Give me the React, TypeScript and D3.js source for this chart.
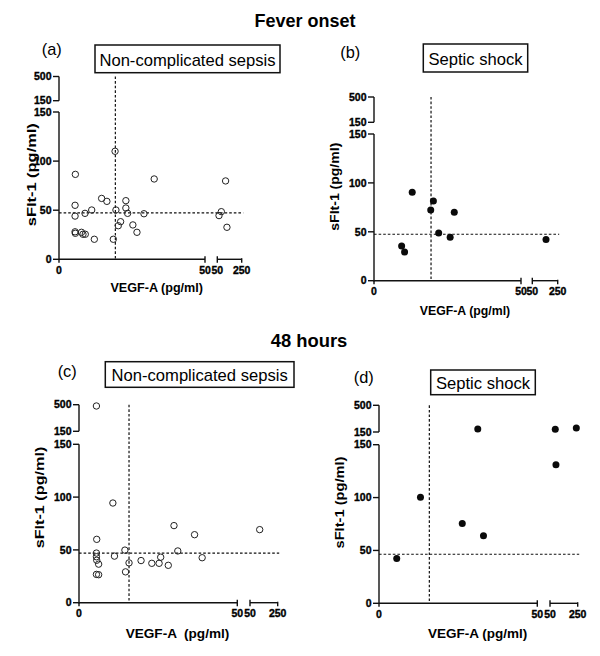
import * as d3 from "d3";
import React from "react";

// [VEGF-A, sFlt-1] pairs (pg/ml)
const feverNonComplicated: [number, number][] = [
  [5.6, 86.5], [5.5, 55], [5.5, 44], [5.5, 28], [5.6, 26.5], [7.7, 27.5], [8.2, 25.5], [9, 25.5],
  [8.9, 46.8], [11.2, 50.2], [12.1, 20.4], [14.6, 62], [16.4, 59], [18.6, 20.4], [19.2, 110],
  [19.5, 50.2], [20.3, 34.2], [21.1, 38.3], [22.9, 59.7], [22.9, 52.2], [23.5, 46.8], [25.3, 35],
  [26.7, 27.5], [29.1, 46.4], [32.6, 81.8], [64, 44.5], [83, 48.5], [118, 79.8], [129, 32.6],
];
const feverSepticShock: [number, number][] = [
  [9.4, 35.5], [10.4, 29.3], [13, 90.4], [19.3, 72.3], [20.2, 81.5], [22, 48.8], [25.9, 44.4],
  [27.3, 69.9], [158, 42],
];
const h48NonComplicated: [number, number][] = [
  [5.5, 483], [5.6, 60], [5.5, 47], [5.5, 43.5], [5.6, 40.2], [6.2, 36.5], [5.5, 26.8], [6.2, 26.5],
  [10.7, 94.4], [11.2, 44.1], [14.5, 49.8], [14.7, 29.2], [15.8, 37.7], [19.6, 39.9], [23, 37.3],
  [25.3, 37.3], [25.8, 43.1], [28.2, 35.4], [30, 73], [31.2, 49], [36.5, 64.4], [38.9, 42.6],
  [120, 69.2],
];
const h48SepticShock: [number, number][] = [
  [5.6, 42.3], [13.1, 100.4], [26.3, 75.5], [33, 63.8], [31.2, 189], [88, 185], [240, 202], [93, 131],
];

// cut-off lines [VEGF-A, sFlt-1]
const cutoffs: [number, number][] = [[19.3, 47.3], [19.4, 47.5], [15.8, 47], [15.9, 46.4]];

const yTicksLow = [0, 50, 100, 150];
const yTicksHigh = [150, 500];
const xTicksLow = [0, 50];
const xTicksHigh = [50, 250];

const panelLetters = ["(a)", "(b)", "(c)", "(d)"];
const groupNames = ["Non-complicated sepsis", "Septic shock", "Non-complicated sepsis", "Septic shock"];
const xTitles = ["VEGF-A (pg/ml)", "VEGF-A (pg/ml)", "VEGF-A  (pg/ml)", "VEGF-A (pg/ml)"];
const yTitle = "sFlt-1 (pg/ml)";
const headings = ["Fever onset", "48 hours"];

const FONT = "'Liberation Sans', Arial, Helvetica, sans-serif";

interface Layout {
  x0: number; x50: number; x50b: number; x250: number;
  y0: number; y150: number; u150: number; u500: number;
  letter: [number, number];
  box: [number, number, number, number];
  boxBase: number;
  xTitle: [number, number, number];
  yTitle: [number, number, number];
}

const layouts: Layout[] = [
  { x0: 59, x50: 205, x50b: 217.3, x250: 241.7, y0: 259.3, y150: 112, u150: 100.7, u500: 76.5,
    letter: [51.7, 55], box: [95, 45, 185, 27.7], boxBase: 65.7,
    xTitle: [156.7, 291.7, 12.6], yTitle: [35.8, 174.7, 103] },
  { x0: 374, x50: 521, x50b: 532.3, x250: 557.7, y0: 280.7, y150: 134, u150: 122.3, u500: 97,
    letter: [350.3, 58.3], box: [423.3, 44, 104.4, 28], boxBase: 65,
    xTitle: [465, 314.5, 12.3], yTitle: [339.3, 186.7, 88] },
  { x0: 79, x50: 237.3, x50b: 250, x250: 277.7, y0: 602.7, y150: 444.3, u150: 431.3, u500: 404.7,
    letter: [67.2, 376.5], box: [105.3, 361.7, 188.7, 25.6], boxBase: 380.7,
    xTitle: [177.5, 638, 13.6], yTitle: [44, 497.5, 101.7] },
  { x0: 379, x50: 537.3, x50b: 550, x250: 577.7, y0: 603.3, y150: 444.7, u150: 432, u500: 405.3,
    letter: [363.7, 383], box: [430.7, 370, 104.6, 24.7], boxBase: 389,
    xTitle: [477.7, 638, 13.5], yTitle: [344, 502.5, 92] },
];

const series = [feverNonComplicated, feverSepticShock, h48NonComplicated, h48SepticShock];
const filled = [false, true, false, true];

const Panel = ({ i }: { i: number }) => {
  const L = layouts[i];
  const xLow = d3.scaleLinear().domain([0, 50]).range([L.x0, L.x50]);
  const xHigh = d3.scaleLinear().domain([50, 250]).range([L.x50b, L.x250]);
  const yLow = d3.scaleLinear().domain([0, 150]).range([L.y0, L.y150]);
  const yHigh = d3.scaleLinear().domain([150, 500]).range([L.u150, L.u500]);
  const x = (v: number) => (v <= 50 ? xLow(v) : xHigh(v));
  const y = (v: number) => (v <= 150 ? yLow(v) : yHigh(v));
  const [cx, cy] = cutoffs[i];
  const tickFont = {
    fontFamily: FONT, fontWeight: 700, fontSize: 10.5, stroke: "#000", strokeWidth: 0.35,
  };

  return (
    <g>
      <text x={L.letter[0]} y={L.letter[1]} textAnchor="middle" fontFamily={FONT} fontSize={16.4}>
        {panelLetters[i]}
      </text>
      <rect x={L.box[0]} y={L.box[1]} width={L.box[2]} height={L.box[3]} fill="none" stroke="#111" strokeWidth={1.5} />
      <text x={L.box[0] + L.box[2] / 2} y={L.boxBase} textAnchor="middle" fontFamily={FONT} fontSize={16.6}>
        {groupNames[i]}
      </text>

      {/* y axis, two segments */}
      <g stroke="#111" strokeWidth={1.4}>
        <line x1={L.x0} x2={L.x0} y1={yLow(0) + 0.7} y2={yLow(150)} />
        <line x1={L.x0} x2={L.x0} y1={yHigh(150)} y2={yHigh(500)} />
        {yTicksLow.map((t) => (
          <line key={"l" + t} x1={L.x0 - 6} x2={L.x0} y1={yLow(t)} y2={yLow(t)} />
        ))}
        {yTicksHigh.map((t) => (
          <line key={"h" + t} x1={L.x0 - 6} x2={L.x0} y1={yHigh(t)} y2={yHigh(t)} />
        ))}
        {/* x axis, two segments */}
        <line x1={L.x0} x2={xLow(50)} y1={L.y0} y2={L.y0} />
        <line x1={xHigh(50)} x2={xHigh(250)} y1={L.y0} y2={L.y0} />
        <line x1={xLow(0)} x2={xLow(0)} y1={L.y0} y2={L.y0 + 3.5} />
        <line x1={xLow(50)} x2={xLow(50)} y1={L.y0 - 3} y2={L.y0 + 3.5} />
        <line x1={xHigh(50)} x2={xHigh(50)} y1={L.y0 - 3} y2={L.y0 + 3.5} />
        <line x1={xHigh(250)} x2={xHigh(250)} y1={L.y0 - 1} y2={L.y0 + 3.5} />
      </g>
      {yTicksLow.map((t) => (
        <text key={"tl" + t} x={L.x0 - 7.5} y={yLow(t)} dy="0.36em" textAnchor="end" {...tickFont}>{t}</text>
      ))}
      {yTicksHigh.map((t) => (
        <text key={"th" + t} x={L.x0 - 7.5} y={yHigh(t)} dy="0.36em" textAnchor="end" {...tickFont}>{t}</text>
      ))}
      {xTicksLow.map((t) => (
        <text key={"xl" + t} x={xLow(t)} y={L.y0 + 14.5} textAnchor="middle" {...tickFont}>{t}</text>
      ))}
      {xTicksHigh.map((t) => (
        <text key={"xh" + t} x={xHigh(t)} y={L.y0 + 14.5} textAnchor="middle" {...tickFont}>{t}</text>
      ))}

      {/* cut-off lines */}
      <g stroke="#111" strokeWidth={1.2} strokeDasharray="2.6,2">
        <line x1={x(cx)} x2={x(cx)} y1={y(500)} y2={L.y0} />
        <line x1={L.x0} x2={L.x250 + 1.5} y1={y(cy)} y2={y(cy)} />
      </g>

      {series[i].map(([vx, vy], k) =>
        filled[i] ? (
          <circle key={k} cx={x(vx)} cy={y(vy)} r={3.5} fill="#0a0a0a" />
        ) : (
          <circle key={k} cx={x(vx)} cy={y(vy)} r={3.2} fill="none" stroke="#222" strokeWidth={1} />
        )
      )}

      <text x={L.xTitle[0]} y={L.xTitle[1]} textAnchor="middle" fontFamily={FONT} fontWeight={700}
        fontSize={L.xTitle[2]} style={{ whiteSpace: "pre" }}>
        {xTitles[i]}
      </text>
      <text transform={`translate(${L.yTitle[0]},${L.yTitle[1]}) rotate(-90)`} textAnchor="middle"
        fontFamily={FONT} fontWeight={700} fontSize={13} textLength={L.yTitle[2]} lengthAdjust="spacingAndGlyphs">
        {yTitle}
      </text>
    </g>
  );
};

export default function App() {
  return (
    <svg width={600} height={656} style={{ position: "absolute", left: 0, top: 0, background: "#fff" }}>
      <rect width={600} height={656} fill="#fff" />
      <text x={305} y={27} textAnchor="middle" fontFamily={FONT} fontWeight={700} fontSize={18}>{headings[0]}</text>
      <text x={309} y={346.7} textAnchor="middle" fontFamily={FONT} fontWeight={700} fontSize={18.4}>{headings[1]}</text>
      {layouts.map((_, i) => (
        <Panel key={i} i={i} />
      ))}
    </svg>
  );
}
